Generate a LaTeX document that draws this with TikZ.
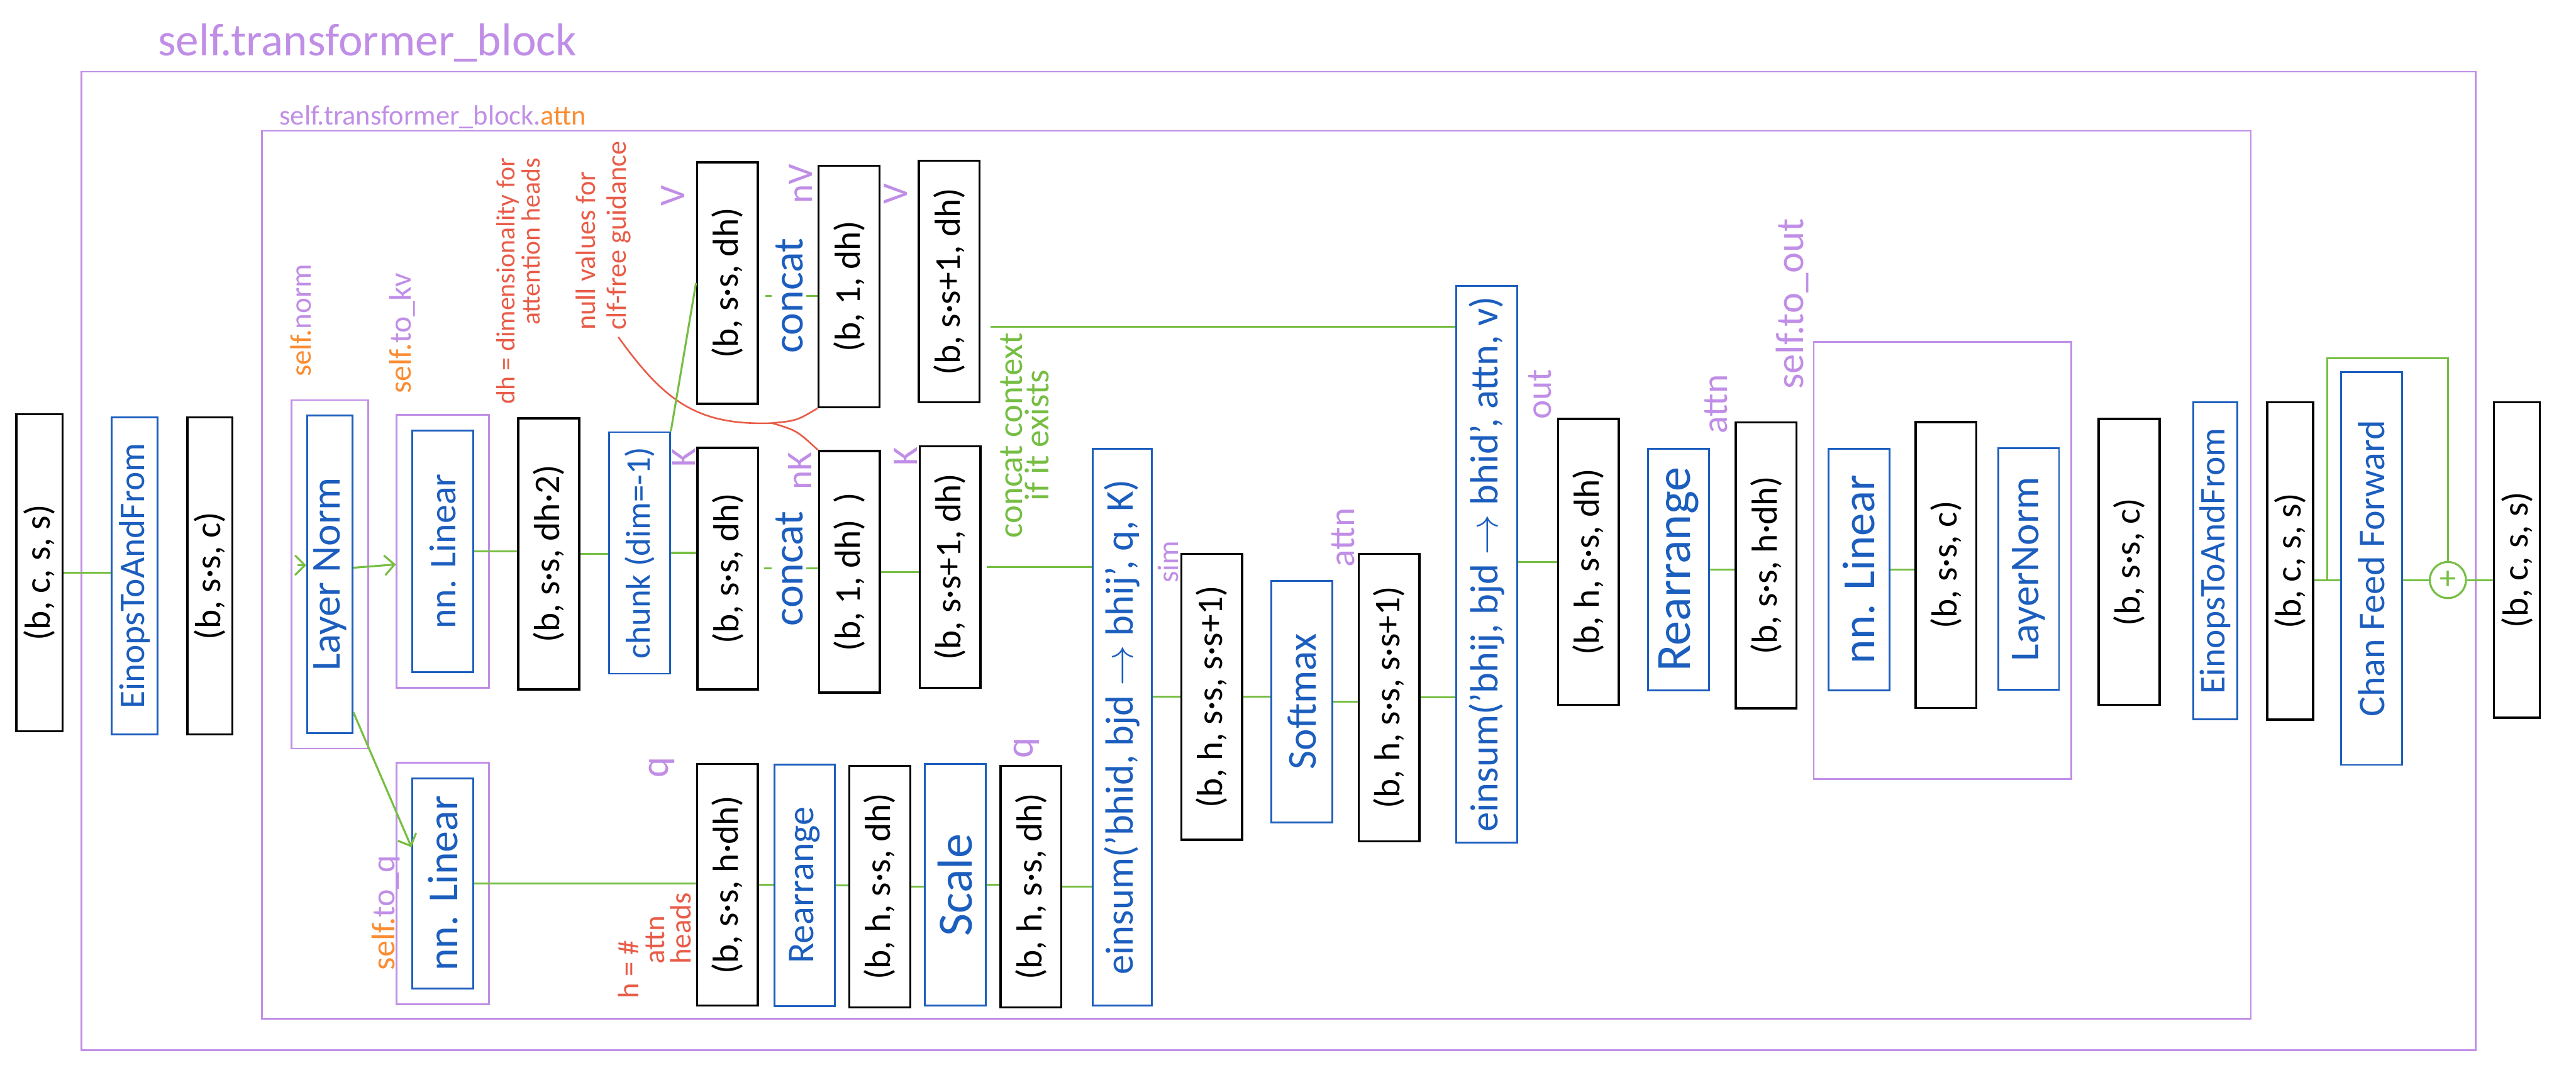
\documentclass[tikz,border=0pt]{standalone}
\usepackage{fontspec}
\setmainfont{Carlito}
\usepackage{xcolor}
\definecolor{penblue}{RGB}{28,94,190}
\definecolor{pengreen}{RGB}{118,190,67}
\definecolor{penpurple}{RGB}{192,142,230}
\definecolor{penred}{RGB}{232,92,72}
\definecolor{penorange}{RGB}{250,140,50}
\newcommand{\penfont}[1]{\fontsize{#1bp}{#1bp}\selectfont}
\newcommand{\uptext}[1]{\rotatebox{90}{#1}}
\usepackage{tikz}
\usetikzlibrary{arrows.meta,positioning,calc,fit}

\begin{document}
\begin{tikzpicture}[
  x=1bp, y=-1bp,
  font=\penfont{22},
  dimbox/.style={
    rectangle, draw=black, line width=1.3bp,
    minimum width=37bp, minimum height=147bp,
    inner sep=0pt, text=black
  },
  opbox/.style={
    rectangle, draw=penblue, line width=1.1bp,
    minimum width=37bp, minimum height=147bp,
    inner sep=0pt, text=penblue
  },
  wrap/.style={
    rectangle, draw=penpurple, line width=1bp,
    inner sep=9bp, fit=#1
  },
  optext/.style={text=penblue, inner sep=2bp, font=\penfont{26}},
  tag/.style={text=penpurple, rotate=90, inner sep=0pt},
  note/.style={text=penred, rotate=90, inner sep=0pt},
  blockframe/.style={draw=penpurple, line width=1bp},
  link/.style={draw=pengreen, line width=1.2bp},
  arr/.style={link, -{Straight Barb[length=6bp,width=12bp]}},
  pointer/.style={draw=penred, line width=1bp}
]
\path[use as bounding box, fill=white] (0,0) rectangle (1568,651);

\draw[blockframe] (49.5,43.6) rectangle (1507,639);
\draw[blockframe] (159.4,79.6) rectangle (1370,620);
\draw[blockframe] (1104,208) rectangle (1260.7,474);

\node[anchor=base west, text=penpurple, font=\penfont{28}, inner sep=0pt] (blocktitle) at (96,34) {self.transformer\_block};
\node[anchor=base west, text=penpurple, font=\penfont{17}, inner sep=0pt] (attntitle) at (170,76) {self.transformer\_block.{\color{penorange}attn}};

\node[dimbox, minimum width=28bp, minimum height=193bp] (a1) at (24,348.5) {\uptext{(b, c, s, s)}};
\node[opbox, minimum width=28bp, minimum height=193bp] (einops1) at (82,350.5) {\uptext{EinopsToAndFrom}};
\node[dimbox, minimum width=27.5bp, minimum height=193bp] (a2) at (127.8,350.5) {\uptext{(b, s·s, c)}};

\node[opbox, minimum width=27.6bp, minimum height=193bp, font=\penfont{25}] (norm1) at (200.8,349.5) {\uptext{Layer Norm}};
\node[wrap=(norm1)] (norm1wrap) {};
\node[opbox, font=\penfont{23}] (tokv) at (269.5,335.5) {\uptext{nn. Linear}};
\node[wrap=(tokv)] (tokvwrap) {};
\node[opbox, minimum height=128bp, font=\penfont{26}] (toq) at (269.5,537.6) {\uptext{nn. Linear}};
\node[wrap=(toq)] (toqwrap) {};

\node[tag, font=\penfont{18}] (normtag) at (183,195) {{\color{penorange}self.}norm};
\node[tag, font=\penfont{19}] (kvtag) at (244.7,202.8) {{\color{penorange}self.}to\_kv};
\node[tag, font=\penfont{20}] (qtag) at (235,555.5) {{\color{penorange}self.}to\_q};

\node[dimbox, minimum height=165bp] (kv2) at (334,337) {\uptext{(b, s·s, dh·2)}};
\node[opbox, font=\penfont{21}] (chunk) at (389.3,336.5) {\uptext{chunk (dim=-1)}};

\node[note, align=right, font=\fontsize{16bp}{15.5bp}\selectfont] (dhnote) at (315.5,171) {dh = dimensionality for\\attention heads};
\node[note, align=left, font=\fontsize{17bp}{19bp}\selectfont] (nullnote) at (367.3,143.4) {null values for\\clf-free guidance};
\node[note, align=left, font=\fontsize{18bp}{16bp}\selectfont] (headsnote) at (398.4,575.5) {h = \#\\\hspace*{21bp}attn\\\hspace*{21bp}heads};
\node[note, text=pengreen, align=center, font=\fontsize{21bp}{16bp}\selectfont] (ctxnote) at (623.8,265) {concat context\\if it exists};

\node[dimbox] (vbox) at (442.8,172.3) {\uptext{(b, s·s, dh)}};
\node[optext] (vconcat) at (480.4,180) {\uptext{concat}};
\node[dimbox] (vnull) at (516.8,174.3) {\uptext{(b, 1, dh)}};
\node[dimbox] (vcat) at (577.8,171.3) {\uptext{(b, s·s+1, dh)}};

\node[dimbox] (kbox) at (443,346) {\uptext{(b, s·s, dh)}};
\node[optext] (kconcat) at (480.4,346) {\uptext{concat}};
\node[dimbox] (knull) at (517,348) {\uptext{(b, 1, dh)\ \ )}};
\node[dimbox] (kcat) at (578.3,345) {\uptext{(b, s·s+1, dh)}};

\node[dimbox] (q1) at (442.8,538.5) {\uptext{(b, s·s, h·dh)}};
\node[opbox, font=\penfont{23}] (rearr1) at (489.8,538.7) {\uptext{Rearrange}};
\node[dimbox] (q2) at (535.5,539.5) {\uptext{(b, h, s·s, dh)}};
\node[opbox, font=\penfont{30}] (scale) at (581.5,538.5) {\uptext{Scale}};
\node[dimbox] (q3) at (627.5,539.5) {\uptext{(b, h, s·s, dh)}};

\node[tag] (vtag1) at (409.5,119) {V};
\node[tag] (nvtag) at (487.5,112) {nV};
\node[tag] (vtag2) at (545.3,118) {V};
\node[tag] (ktag1) at (416,278.5) {K};
\node[tag] (nktag) at (487,286.5) {nK};
\node[tag] (ktag2) at (551.3,277.8) {K};
\node[tag, font=\penfont{24}] (qtag1) at (403,467) {q};
\node[tag, font=\penfont{24}] (qtag2) at (625,455) {q};

\node[opbox, minimum width=36bp, minimum height=339bp, font=\penfont{24}] (ein1) at (683,442.5) {\uptext{einsum('bhid, bjd $\rightarrow$ bhij', q, K)}};
\node[dimbox, minimum height=174bp] (simmap) at (737.5,424) {\uptext{(b, h, s·s, s·s+1)}};
\node[opbox, font=\penfont{25}] (softmax) at (792.5,427) {\uptext{Softmax}};
\node[dimbox, minimum height=175bp] (attnmap) at (845.5,424.5) {\uptext{(b, h, s·s, s·s+1)}};
\node[opbox, minimum height=339bp, font=\penfont{24}] (ein2) at (905,343.4) {\uptext{einsum('bhij, bjd $\rightarrow$ bhid', attn, v)}};
\node[tag, font=\penfont{18}] (simtag) at (711,342) {sim};
\node[tag] (attntag1) at (817.5,327) {attn};

\node[dimbox, minimum height=174bp] (headsout) at (966.8,342) {\uptext{(b, h, s·s, dh)}};
\node[opbox, font=\penfont{30}] (rearr2) at (1021.8,346.5) {\uptext{Rearrange}};
\node[dimbox, minimum height=174bp] (merged) at (1075,344) {\uptext{(b, s·s, h·dh)}};
\node[tag] (outtag) at (937.5,240) {out};
\node[tag] (attntag2) at (1044.5,246) {attn};
\node[tag, font=\penfont{24}] (outprojtag) at (1091,185) {self.to\_out};

\node[opbox, font=\penfont{28}] (tolin) at (1131.5,346.5) {\uptext{nn. Linear}};
\node[dimbox, minimum height=174bp] (lin) at (1184.5,343.8) {\uptext{(b, s·s, c)}};
\node[opbox, font=\penfont{25}] (norm2) at (1234.8,346.3) {\uptext{LayerNorm}};
\node[dimbox, minimum height=174bp] (pre) at (1296,342) {\uptext{(b, s·s, c)}};

\node[opbox, minimum width=27bp, minimum height=193bp] (einops2) at (1348.5,341.4) {\uptext{EinopsToAndFrom}};
\node[dimbox, minimum width=28bp, minimum height=193bp] (img) at (1394,341.4) {\uptext{(b, c, s, s)}};
\node[opbox, minimum height=239bp, font=\penfont{23}] (ff) at (1443.5,346) {\uptext{Chan Feed Forward}};
\node[circle, draw=pengreen, line width=1.2bp, minimum size=22bp, inner sep=0pt, text=pengreen, font=\penfont{20}] (plus) at (1490,353) {+};
\node[dimbox, minimum width=28bp, minimum height=192bp] (final) at (1532,340.8) {\uptext{(b, c, s, s)}};

\coordinate (nin) at (181,344);
\coordinate (vctx) at (603,199);
\coordinate (nullfork) at (470,257.5);
\coordinate (skip) at ($(img.east |- plus)!0.5!(ff.west |- plus)$);

\draw[pointer] ([xshift=-8bp,yshift=-4bp]nullnote.south west) .. controls (405,245) and (425,259) .. (nullfork) .. controls (485,256) .. (vnull.south west);
\draw[pointer] (nullfork) .. controls (485,262) .. (knull.north west);

\draw[link] (a1.east) -- (a1.east -| einops1.west);
\draw[arr] (nin) -- (nin -| norm1.west);
\draw[arr] ([yshift=4bp]norm1.east) -- ([yshift=-8bp]tokvwrap.west);
\draw[arr] ([yshift=13bp]norm1.south east) -- ([yshift=22bp]toq.west);
\draw[link] (tokv.east) -- (tokv.east -| kv2.west);
\draw[link] (kv2.east) -- (kv2.east -| chunk.west);
\draw[link] (chunk.east) -- (chunk.east -| kbox.west);
\draw[link] (chunk.north east) -- (vbox.west);
\draw[link] ([xshift=4bp]vbox.east |- vconcat) -- (vconcat.west);
\draw[link] (vconcat.east) -- (vconcat -| vnull.west);
\draw[link] ([xshift=3bp]kbox.east |- kconcat) -- (kconcat.west);
\draw[link] (kconcat.east) -- (kconcat -| knull.west);
\draw[link] (knull.east) -- (knull.east -| kcat.west);
\draw[link] ([xshift=3bp]kcat.east) -- (kcat.east -| ein1.west);
\draw[link] (vctx) -- (vctx -| ein2.west);
\draw[link] (toq.east) -- (toq.east -| q1.west);
\draw[link] (q1.east) -- (q1.east -| rearr1.west);
\draw[link] (rearr1.east) -- (rearr1.east -| q2.west);
\draw[link] (q2.east) -- (q2.east -| scale.west);
\draw[link] (scale.east) -- (scale.east -| q3.west);
\draw[link] (q3.east) -- (q3.east -| ein1.west);
\draw[link] (ein1.east |- simmap) -- (simmap.west);
\draw[link] (simmap.east) -- (simmap.east -| softmax.west);
\draw[link] (softmax.east) -- (softmax.east -| attnmap.west);
\draw[link] (attnmap.east) -- (attnmap.east -| ein2.west);
\draw[link] (ein2.east |- headsout) -- (headsout.west);
\draw[link] (rearr2.east) -- (rearr2.east -| merged.west);
\draw[link] (tolin.east) -- (tolin.east -| lin.west);
\draw[link] (img.east |- plus) -- (ff.west |- plus);
\draw[link] (skip) -- ++(0,-135) -| (plus.north);
\draw[link] (ff.east |- plus) -- (plus.west);
\draw[link] (plus.east) -- (plus.east -| final.west);
\end{tikzpicture}
\end{document}
